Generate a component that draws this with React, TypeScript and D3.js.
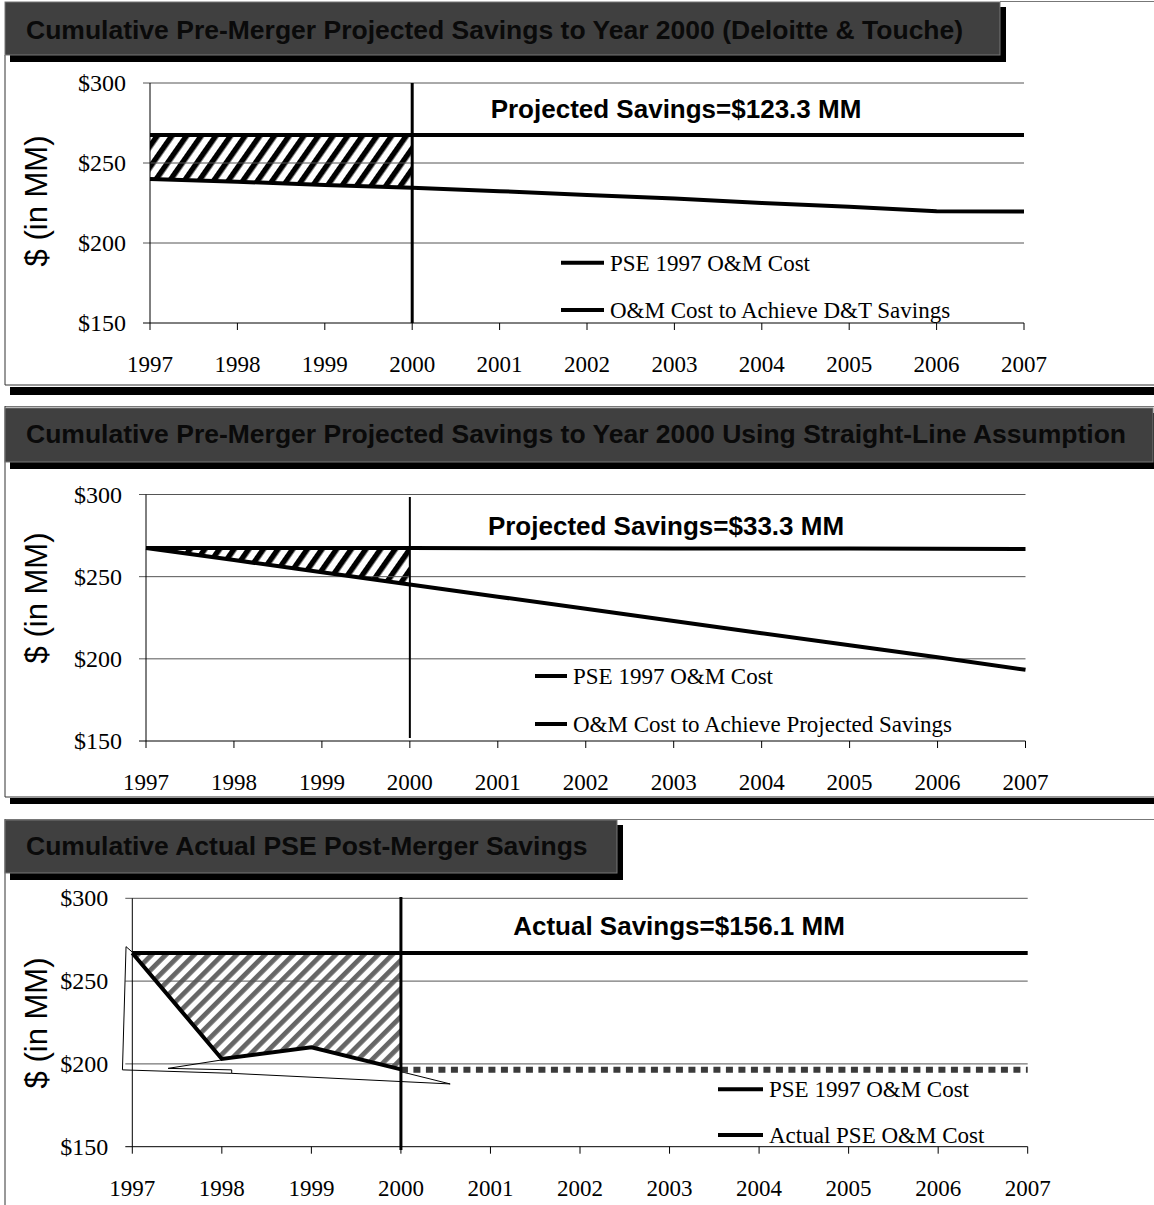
import React from 'react';
import * as d3 from 'd3';

const years = [1997, 1998, 1999, 2000, 2001, 2002, 2003, 2004, 2005, 2006, 2007];
const yTicks = [150, 200, 250, 300];

const titles = [
  'Cumulative Pre-Merger Projected Savings to Year 2000 (Deloitte & Touche)',
  'Cumulative Pre-Merger Projected Savings to Year 2000 Using Straight-Line Assumption',
  'Cumulative Actual PSE Post-Merger Savings',
];
const savingsLabels = [
  'Projected Savings=$123.3 MM',
  'Projected Savings=$33.3 MM',
  'Actual Savings=$156.1 MM',
];
const legend1 = ['PSE 1997 O&M Cost', 'O&M Cost to Achieve D&T Savings'];
const legend2 = ['PSE 1997 O&M Cost', 'O&M Cost to Achieve Projected Savings'];
const legend3 = ['PSE 1997 O&M Cost', 'Actual PSE O&M Cost'];
const yAxisTitle = '$ (in MM)';

// Panel 1
const p1Pse = [267.5, 267.5, 267.5, 267.5, 267.5, 267.5, 267.5, 267.5, 267.5, 267.5, 267.5];
const p1Dt = [240, 238.3, 236.3, 234.5, 232.4, 230, 227.8, 225, 222.6, 219.8, 219.7];
// Panel 2
const p2Pse = [267.5, 267.5, 267.5, 267.4, 267.3, 267.3, 267.2, 267.1, 267.1, 267, 266.9];
const p2Straight = [267.5, 260.1, 252.7, 245.2, 237.8, 230.5, 223, 215.6, 208.3, 200.9, 193.3];
// Panel 3
const p3Pse = [267, 267, 267, 267, 267, 267, 267, 267, 267, 267, 267];
const p3ActualYears = [1997, 1998, 1999, 2000];
const p3Actual = [267, 203, 210, 196.7];
const p3TrendYears = [2000, 2001, 2002, 2003, 2004, 2005, 2006, 2007];
const p3Trend = [196.5, 196.5, 196.5, 196.5, 196.5, 196.5, 196.5, 196.5];
// stray callout outline (year, value)
const p3CalloutA: [number, number][] = [
  [1997, 267.5], [1996.93, 270.8], [1996.89, 196.4], [1998.11, 194.3], [1998.11, 196.4], [1997.4, 197.3], [1998, 202.4],
];
const p3CalloutB: [number, number][] = [
  [1998.11, 194.3], [2000.55, 187.9], [2000, 195.3],
];

const serif = "'Liberation Serif', 'Times New Roman', serif";
const sans = "'Liberation Sans', Arial, sans-serif";

type Cfg = {
  x0: number; x1: number; yTop: number; yBot: number;
  pse: number[]; other?: number[];
  hatch: string; vLineTop: number; vLineBot: number; vLineW: number;
  savings: string; savX: number; savY: number;
  legend: string[]; legX0: number; legX1: number; legY: number[];
  yTitleY: number;
  panel3?: boolean;
};

function Panel({ c }: { c: Cfg }) {
  const x = d3.scaleLinear().domain([1997, 2007]).range([c.x0, c.x1]);
  const y = d3.scaleLinear().domain([150, 300]).range([c.yBot, c.yTop]);
  const line = d3.line<number>().x((_, i) => x(years[i])).y((d) => y(d));
  const hatchYears = [1997, 1998, 1999, 2000];
  const lowerVals = c.panel3 ? p3Actual : (c.other as number[]).slice(0, 4);
  const area = d3
    .area<number>()
    .x((d) => x(d))
    .y0((_, i) => y(c.pse[i]))
    .y1((_, i) => y(lowerVals[i]));
  const ptLine = d3.line<[number, number]>().x((d) => x(d[0])).y((d) => y(d[1]));
  return (
    <g>
      {/* hatch area */}
      <path d={area(hatchYears) as string} fill={`url(#${c.hatch})`} />
      {/* grid */}
      {yTicks.map((t) => (
        <g key={t}>
          <line x1={c.x0 - 7} x2={c.x1} y1={y(t)} y2={y(t)} stroke={t === 150 ? '#000' : '#555'} strokeWidth={1} />
          <text x={c.x0 - 24} y={y(t) + 8} textAnchor="end" fontFamily={serif} fontSize={24} fill="#000">
            ${t}
          </text>
        </g>
      ))}
      <line x1={c.x0} x2={c.x0} y1={c.yTop} y2={c.yBot} stroke="#000" strokeWidth={1} />
      {years.map((yr) => (
        <g key={yr}>
          <line x1={x(yr)} x2={x(yr)} y1={c.yBot} y2={c.yBot + 7} stroke="#000" strokeWidth={1} />
          <text x={x(yr)} y={c.yBot + 49} textAnchor="middle" fontFamily={serif} fontSize={23} fill="#000">
            {yr}
          </text>
        </g>
      ))}
      {/* series */}
      {c.panel3 ? (
        <>
          <path d={ptLine(p3CalloutA) as string} fill="none" stroke="#000" strokeWidth={1} />
          <path d={ptLine(p3CalloutB) as string} fill="none" stroke="#000" strokeWidth={1} />
          <path
            d={d3.line<number>().x((_, i) => x(p3TrendYears[i])).y((d) => y(d))(p3Trend) as string}
            fill="none" stroke="#3a3a3a" strokeWidth={6} strokeDasharray="7 5.5"
          />
          <path
            d={d3.line<number>().x((_, i) => x(p3ActualYears[i])).y((d) => y(d))(p3Actual) as string}
            fill="none" stroke="#000" strokeWidth={4} strokeLinejoin="miter"
          />
        </>
      ) : (
        <path d={line(c.other as number[]) as string} fill="none" stroke="#000" strokeWidth={4} />
      )}
      <path d={line(c.pse) as string} fill="none" stroke="#000" strokeWidth={4} />
      <line x1={x(2000)} x2={x(2000)} y1={c.vLineTop} y2={c.vLineBot} stroke="#000" strokeWidth={c.vLineW} />
      {/* savings label */}
      <text x={c.savX} y={c.savY} textAnchor="middle" fontFamily={sans} fontWeight="bold" fontSize={26} fill="#000">
        {c.savings}
      </text>
      {/* legend */}
      {c.legend.map((l, i) => (
        <g key={l}>
          <line x1={c.legX0} x2={c.legX1} y1={c.legY[i]} y2={c.legY[i]} stroke="#000" strokeWidth={4} />
          <text x={c.legX1 + 6} y={c.legY[i] + 8} fontFamily={serif} fontSize={23} fill="#000">
            {l}
          </text>
        </g>
      ))}
      {/* y axis title */}
      <text
        transform={`translate(${47},${c.yTitleY}) rotate(-90)`}
        textAnchor="middle" fontFamily={sans} fontSize={31} fill="#000"
      >
        {yAxisTitle}
      </text>
    </g>
  );
}

function TitleBox({ x0, y0, x1, y1, text, baseline }: { x0: number; y0: number; x1: number; y1: number; text: string; baseline: number }) {
  return (
    <g>
      <rect x={x0 + 5} y={y0 + 5} width={x1 - x0 + 1} height={y1 - y0 + 2} fill="#000" />
      <rect x={x0} y={y0} width={x1 - x0} height={y1 - y0} fill="#404040" stroke="#777" strokeWidth={1} />
      <text x={26} y={baseline} fontFamily={sans} fontWeight="bold" fontSize={26.5} fill="#0a0a0a">
        {text}
      </text>
    </g>
  );
}

export default function App() {
  const cfgs: Cfg[] = [
    {
      x0: 150, x1: 1024, yTop: 83, yBot: 323, pse: p1Pse, other: p1Dt, hatch: 'hatchA',
      vLineTop: 83, vLineBot: 323, vLineW: 3, savings: savingsLabels[0], savX: 676, savY: 118,
      legend: legend1, legX0: 561, legX1: 604, legY: [262.7, 310], yTitleY: 201,
    },
    {
      x0: 146, x1: 1025.5, yTop: 494.5, yBot: 741, pse: p2Pse, other: p2Straight, hatch: 'hatchA',
      vLineTop: 497, vLineBot: 738, vLineW: 2, savings: savingsLabels[1], savX: 666, savY: 535,
      legend: legend2, legX0: 535, legX1: 567, legY: [676, 724], yTitleY: 598,
    },
    {
      x0: 132.3, x1: 1027.7, yTop: 898.3, yBot: 1146.7, pse: p3Pse, hatch: 'hatchB',
      vLineTop: 897, vLineBot: 1150, vLineW: 3, savings: savingsLabels[2], savX: 679, savY: 935,
      legend: legend3, legX0: 718, legX1: 763, legY: [1089.3, 1135], yTitleY: 1023, panel3: true,
    },
  ];
  return (
    <svg width={1154} height={1205} style={{ position: 'absolute', left: 0, top: 0, display: 'block', background: '#fff' }}>
      <defs>
        <pattern id="hatchA" patternUnits="userSpaceOnUse" width={12} height={12} patternTransform="rotate(35)">
          <rect width={12} height={12} fill="#fff" />
          <rect width={5.5} height={12} fill="#000" />
        </pattern>
        <pattern id="hatchB" patternUnits="userSpaceOnUse" width={10} height={10} patternTransform="rotate(45)">
          <rect width={10} height={10} fill="#fff" />
          <rect width={4.8} height={10} fill="#666" />
        </pattern>
      </defs>
      <rect x={0} y={0} width={1154} height={1205} fill="#fff" />
      {/* panel 1 frame */}
      <line x1={1000} x2={1154} y1={1.5} y2={1.5} stroke="#777" />
      <line x1={5} x2={5} y1={55} y2={385} stroke="#333" />
      <line x1={5} x2={1154} y1={385} y2={385} stroke="#333" />
      <rect x={10} y={387} width={1144} height={8} fill="#000" />
      <TitleBox x0={5} y0={2} x1={1000} y1={55} text={titles[0]} baseline={39} />
      {/* panel 2 frame */}
      <line x1={5} x2={1154} y1={406.5} y2={406.5} stroke="#777" />
      <line x1={5} x2={5} y1={406} y2={797} stroke="#333" />
      <line x1={5} x2={1154} y1={797} y2={797} stroke="#333" />
      <rect x={10} y={798} width={1144} height={6} fill="#000" />
      <TitleBox x0={5} y0={408} x1={1153} y1={462} text={titles[1]} baseline={443} />
      {/* panel 3 frame */}
      <line x1={5} x2={1154} y1={819.5} y2={819.5} stroke="#777" />
      <line x1={5} x2={5} y1={819} y2={1205} stroke="#333" />
      <TitleBox x0={5} y0={820} x1={617} y1={873} text={titles[2]} baseline={855} />
      {cfgs.map((c, i) => (
        <Panel key={i} c={c} />
      ))}
    </svg>
  );
}
